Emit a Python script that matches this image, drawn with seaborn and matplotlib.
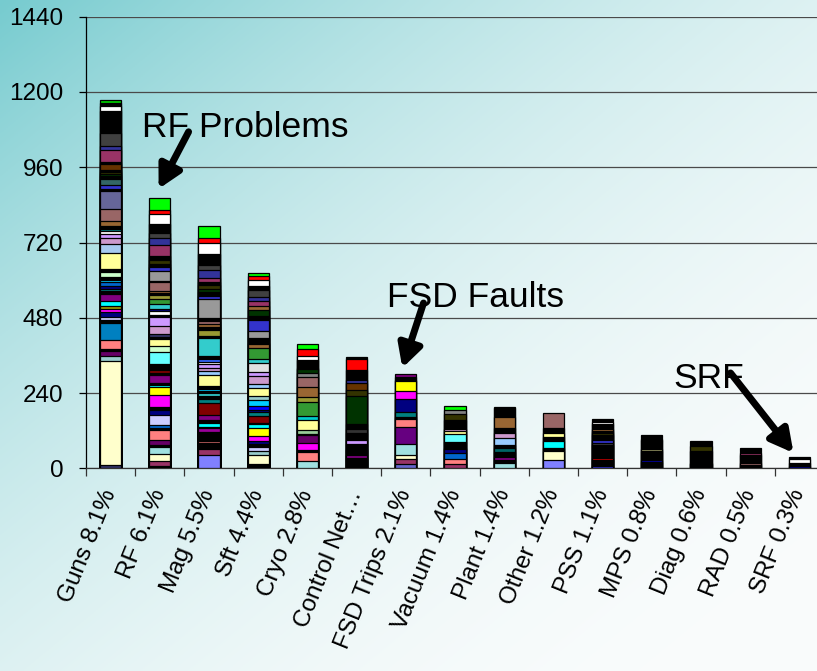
import numpy as np
import pandas as pd
import matplotlib
matplotlib.use("Agg")
import matplotlib.pyplot as plt
import matplotlib.transforms as mtransforms
import seaborn as sns

# Downtime categories (hours) with their share of scheduled time
categories = ["Guns 8.1%", "RF 6.1%", "Mag 5.5%", "Sft 4.4%", "Cryo 2.8%",
              "Control Net…", "FSD Trips 2.1%", "Vacuum 1.4%", "Plant 1.4%",
              "Other 1.2%", "PSS 1.1%", "MPS 0.8%", "Diag 0.6%", "RAD 0.5%",
              "SRF 0.3%"]

# Individual fault contributions per category, stacked bottom to top
guns_hours = [11, 330, 16, 16, 7, 28, 55, 9, 11, 15, 11, 9, 16, 21, 11, 7, 9, 11,
              9, 7, 18, 9, 49, 30, 20, 12, 11, 5, 11, 13, 40, 58, 7, 10, 21, 9,
              5, 9, 5, 18, 7, 40, 11, 43, 69, 16, 11, 7]
guns_colors = ['#333366', '#FFFFCC', '#99CCCC', '#660066', '#000000', '#FF8080',
               '#0080C0', '#000000', '#CCCCFF', '#000080', '#FF00FF', '#999900',
               '#00FFFF', '#800080', '#000000', '#008080', '#000080', '#0066CC',
               '#00CCFF', '#000000', '#CCFFCC', '#000000', '#FFFF99', '#A6CAF0',
               '#CC99CC', '#CC99FF', '#FFFFFF', '#008080', '#000000', '#996633',
               '#996666', '#666699', '#000000', '#3333CC', '#336666', '#000000',
               '#003300', '#333300', '#000000', '#663300', '#000000', '#993366',
               '#333399', '#404040', '#000000', '#FFFFFF', '#000000', '#00CC00']

rf_hours = [7, 16, 24, 21, 7, 16, 30, 9, 7, 32, 18, 9, 37, 27, 5, 7, 24, 7, 9, 21,
            37, 21, 21, 7, 8, 27, 27, 9, 13, 5, 16, 16, 14, 6, 6, 27, 5, 32, 11,
            11, 13, 11, 35, 23, 17, 29, 32, 13, 38]
rf_colors = ['#000000', '#993366', '#FFFFCC', '#A0E0E0', '#000000', '#660066',
             '#FF8080', '#000000', '#0066CC', '#CCCCFF', '#000080', '#000000',
             '#FF00FF', '#FFFF00', '#00FFFF', '#000000', '#800080', '#000000',
             '#800000', '#000000', '#66FFFF', '#CCFFCC', '#FFFF99', '#000000',
             '#333366', '#CC99CC', '#CC99FF', '#000000', '#FFFFFF', '#000080',
             '#33CCCC', '#339933', '#999933', '#000000', '#996633', '#996666',
             '#808080', '#999999', '#3333CC', '#000000', '#333300', '#000000',
             '#993366', '#333399', '#404040', '#000000', '#FFFFFF', '#FF0000',
             '#00FF00']

mag_hours = [43, 19, 18, 7, 9, 5, 16, 11, 5, 11, 11, 16, 37, 13, 9, 9, 7, 7, 9, 34,
             14, 11, 11, 7, 11, 9, 55, 9, 19, 7, 11, 11, 7, 62, 11, 11, 11, 11, 9,
             13, 27, 16, 34, 35, 16, 40]
mag_colors = ['#8080FF', '#993366', '#000000', '#CC6666', '#000000', '#800080',
              '#000000', '#990099', '#FFFF00', '#00FFFF', '#000000', '#800080',
              '#800000', '#008080', '#000000', '#33CCCC', '#000000', '#00CCFF',
              '#000000', '#FFFF99', '#99CCFF', '#CC99CC', '#CC99FF', '#FFFFFF',
              '#3366FF', '#000000', '#33CCCC', '#000000', '#999933', '#000000',
              '#996633', '#996666', '#000000', '#999999', '#3333CC', '#000000',
              '#003300', '#333300', '#000000', '#993366', '#333399', '#404040',
              '#000000', '#FFFFFF', '#FF0000', '#00FF00']

sft_hours = [14, 27, 13, 14, 11, 7, 16, 27, 11, 5, 23, 12, 5, 15, 17, 15, 24, 14,
             23, 13, 30, 13, 34, 13, 5, 13, 24, 35, 13, 19, 13, 15, 12, 24, 13,
             19, 11, 11]
sft_colors = ['#000000', '#FFFFCC', '#99CCCC', '#CCCCFF', '#000000', '#000080',
              '#FF00FF', '#FFFF00', '#00FFFF', '#800080', '#800000', '#008080',
              '#000080', '#0000FF', '#00CCFF', '#99CCCC', '#FFFF99', '#99CCFF',
              '#CC99CC', '#CC99FF', '#E0E0E0', '#33CCCC', '#339933', '#996633',
              '#663300', '#000000', '#999999', '#3333CC', '#000000', '#003300',
              '#996633', '#993366', '#333399', '#404040', '#000000', '#FFFFFF',
              '#FF0000', '#00FF00']

cryo_hours = [24, 27, 7, 23, 24, 5, 11, 32, 13, 46, 14, 34, 30, 13, 14, 4, 24, 13,
              21, 17]
cryo_colors = ['#A0E0E0', '#FF8080', '#000000', '#FF00FF', '#660066', '#008080',
               '#99CC99', '#FFFF99', '#00CCCC', '#339933', '#999933', '#996633',
               '#996666', '#808080', '#003300', '#333300', '#000000', '#FFFFFF',
               '#FF0000', '#00FF00']

ctrl_hours = [32, 11, 14, 6, 15, 13, 21, 13, 17, 87, 21, 21, 9, 34, 34, 8]
ctrl_colors = ['#000000', '#800080', '#000000', '#66CCFF', '#000000', '#CC99FF',
               '#000000', '#333333', '#000000', '#003300', '#333300', '#663300',
               '#333399', '#000000', '#FF0000', '#000000']

fsd_hours = [13, 16, 12, 37, 55, 23, 9, 13, 44, 26, 30, 5, 9, 10]
fsd_colors = ['#6666CC', '#993366', '#FFFFCC', '#A0E0E0', '#660080', '#FF8080',
              '#000000', '#008080', '#000080', '#FF00FF', '#FFFF00', '#00CCCC',
              '#000000', '#800080']

vac_hours = [14, 15, 19, 13, 5, 19, 24, 10, 6, 29, 19, 13, 14]
vac_colors = ['#993366', '#FF8080', '#0066CC', '#000080', '#800080', '#000000',
              '#66FFFF', '#FFFF99', '#CC99CC', '#000000', '#333300', '#808080',
              '#00FF00']

plant_hours = [16, 11, 8, 18, 11, 11, 21, 16, 16, 37, 27, 4]
plant_colors = ['#A0E0E0', '#000000', '#800080', '#000000', '#006666', '#000000',
                '#99CCFF', '#CC99CC', '#000000', '#996633', '#000000', '#00FF00']

other_hours = [27, 27, 11, 21, 14, 11, 18, 46]
other_colors = ['#8080FF', '#FFFFCC', '#000000', '#00FFFF', '#000000', '#FFFF99',
                '#000000', '#996666']

pss_hours = [7, 19, 7, 40, 7, 11, 14, 7, 6, 7, 16, 7, 8]
pss_colors = ['#3333CC', '#000000', '#CC0000', '#000000', '#404040', '#3333CC',
              '#000000', '#333300', '#000000', '#996633', '#000000', '#FFFFFF',
              '#000000']

mps_hours = [21, 7, 28, 6, 28, 5, 11]
mps_colors = ['#000000', '#0000AA', '#000000', '#999966', '#000000', '#993366',
              '#000000']

diag_hours = [14, 4, 38, 15, 16]
diag_colors = ['#000000', '#CCCC00', '#000000', '#333300', '#000000']

rad_hours = [11, 7, 24, 7, 17]
rad_colors = ['#000000', '#996666', '#000000', '#993366', '#000000']

srf_hours = [8, 10, 11, 8]
srf_colors = ['#000080', '#000000', '#FFFFFF', '#000000']

stacks = [(guns_hours, guns_colors), (rf_hours, rf_colors), (mag_hours, mag_colors),
          (sft_hours, sft_colors), (cryo_hours, cryo_colors),
          (ctrl_hours, ctrl_colors), (fsd_hours, fsd_colors),
          (vac_hours, vac_colors), (plant_hours, plant_colors),
          (other_hours, other_colors), (pss_hours, pss_colors),
          (mps_hours, mps_colors), (diag_hours, diag_colors),
          (rad_hours, rad_colors), (srf_hours, srf_colors)]

# Long table: one row per stacked segment with its cumulative top
rows = []
for cat, (hours, cols) in zip(categories, stacks):
    tops = np.cumsum(hours)
    for layer, (top, col) in enumerate(zip(tops, cols)):
        rows.append({"cat": cat, "layer": layer, "top": top, "color": col})
seg = pd.DataFrame(rows)

sns.set_theme(style="white")
plt.rcParams['font.family'] = ['Liberation Sans', 'DejaVu Sans']
plt.rcParams['text.color'] = 'black'

W, H = 817, 671
fig = plt.figure(figsize=(W / 100, H / 100), dpi=100)

# Diagonal teal-to-white backdrop
bg = fig.add_axes([0, 0, 1, 1], zorder=-10)
gx, gy = np.meshgrid(np.linspace(0, 1, 400), np.linspace(0, 1, 330))
t = (gx + gy) / 2.0
frac = (1 - t) ** 2.2
c0 = np.array([118, 203, 207]) / 255.0
c1 = np.array([250, 252, 252]) / 255.0
grad = c1[None, None, :] + (c0 - c1)[None, None, :] * frac[..., None]
bg.imshow(grad, aspect='auto', extent=[0, 1, 0, 1], origin='upper')
bg.set_xlim(0, 1)
bg.set_ylim(0, 1)
bg.axis('off')

x0 = 86 / W
y0 = 1 - 468.3 / H
ax = fig.add_axes([x0, y0, (824 - 86) / W, (468.3 - 16.7) / H])
ax.patch.set_alpha(0)

# Stack by overdrawing: tallest cumulative layer first, then lower layers on top
for k in sorted(seg["layer"].unique(), reverse=True):
    sub = seg[seg["layer"] == k]
    sns.barplot(data=sub, x="cat", y="top", hue="cat",
                palette=dict(zip(sub["cat"], sub["color"])),
                order=categories, width=0.43, saturation=1,
                edgecolor="black", linewidth=0.9, errorbar=None,
                legend=False, ax=ax, zorder=3)

ax.set_xlim(-0.5, len(categories) - 0.5)
ax.set_ylim(0, 1440)
ax.set_yticks(np.arange(0, 1441, 240))
ax.set_xlabel("")
ax.set_ylabel("")
ax.set_axisbelow(True)
ax.yaxis.grid(True, color="#4a4a4a", linewidth=0.9)
ax.xaxis.grid(False)
for s in ["top", "right"]:
    ax.spines[s].set_visible(False)
ax.spines["left"].set_color("black")
ax.spines["left"].set_linewidth(0.9)
ax.spines["bottom"].set_color("#333333")
ax.spines["bottom"].set_linewidth(0.9)

ax.tick_params(axis="y", which="major", direction="out", length=5.3, width=0.9,
               color="black", pad=11, labelsize=17.5, labelcolor="black", left=True)
ax.set_xticks(range(len(categories)))
ax.set_xticklabels(categories, rotation=68, ha="right", va="center",
                   rotation_mode="anchor", fontsize=17.5, color="black")
shift = mtransforms.ScaledTranslation(5 / 100, 0, fig.dpi_scale_trans)
for lbl in ax.get_xticklabels():
    lbl.set_transform(lbl.get_transform() + shift)
ax.set_xticks(np.arange(-0.5, len(categories), 1), minor=True)
ax.tick_params(axis="x", which="major", length=0, pad=16)
ax.tick_params(axis="x", which="minor", direction="out", length=6, width=0.9,
               color="#333333", bottom=True)

# Callouts
arrow = dict(arrowstyle="-|>,head_length=0.45,head_width=0.24", lw=5,
             color="black", mutation_scale=30, shrinkA=0, shrinkB=0)
ax.text(0.644, 1056, "RF Problems", fontsize=25.5, ha="left", va="baseline",
        color="black", zorder=5)
ax.annotate("", xy=(0.976, 891), xytext=(1.585, 1073), arrowprops=arrow,
            zorder=6)
ax.text(5.62, 514, "FSD Faults", fontsize=25.5, ha="left", va="baseline",
        color="black", zorder=5)
ax.annotate("", xy=(5.93, 320), xytext=(6.36, 527), arrowprops=arrow, zorder=6)
ax.text(11.44, 256, "SRF", fontsize=25.5, ha="left", va="baseline",
        color="black", zorder=5)
ax.annotate("", xy=(13.88, 49), xytext=(12.6, 304), arrowprops=arrow, zorder=6)

fig.savefig("out.png", dpi=100)
